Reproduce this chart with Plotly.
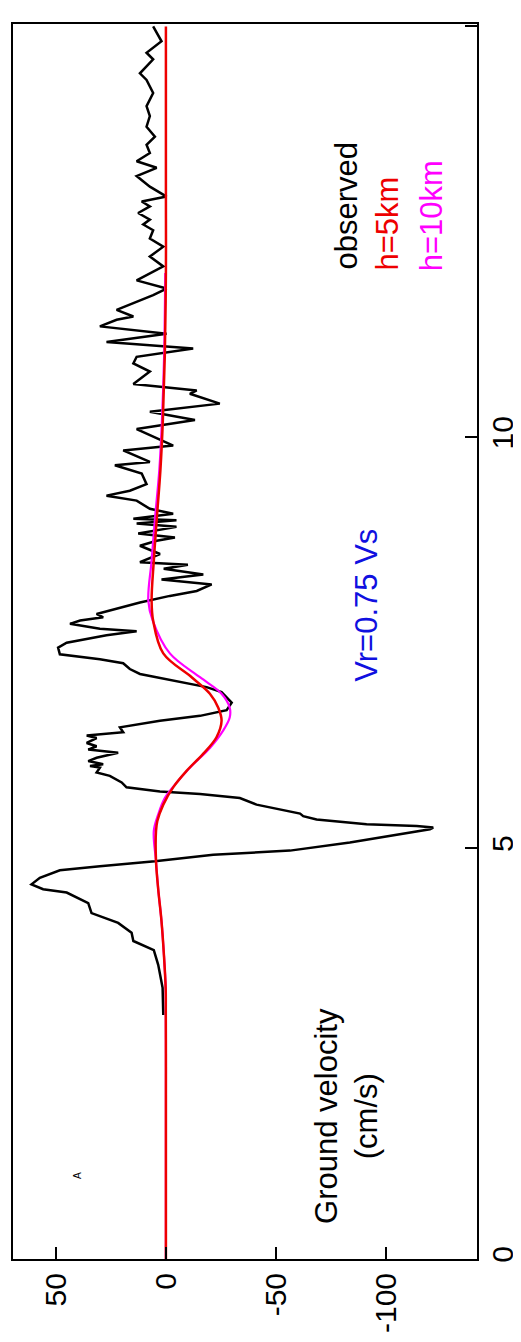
import plotly.graph_objects as go

# observed ground velocity (time s, velocity cm/s)
obs_t = [2.97, 3.30, 3.58, 3.76, 3.87, 3.97, 4.09, 4.21, 4.33, 4.46, 4.50, 4.56, 4.64, 4.73, 4.78, 4.84,
         4.92, 4.97, 5.07, 5.09, 5.23, 5.25, 5.27, 5.29, 5.35, 5.39, 5.42, 5.53, 5.61, 5.66, 5.69, 5.74,
         5.80, 5.88, 5.92, 5.98, 6.00, 6.02, 6.06, 6.10, 6.16, 6.20, 6.24, 6.28, 6.34, 6.37, 6.41, 6.47,
         6.55, 6.61, 6.68, 6.77, 6.90, 6.96, 7.06, 7.12, 7.18, 7.25, 7.30, 7.36, 7.44, 7.50, 7.59, 7.64,
         7.67, 7.73, 7.77, 7.81, 7.85, 7.99, 8.07, 8.13, 8.21, 8.27, 8.33, 8.40, 8.45, 8.48, 8.58, 8.68,
         8.74, 8.78, 8.83, 8.91, 8.95, 8.99, 9.01, 9.07, 9.13, 9.23, 9.29, 9.35, 9.43, 9.56, 9.66, 9.70,
         9.84, 9.90, 10.10, 10.21, 10.31, 10.41, 10.53, 10.57, 10.65, 10.80, 10.90, 10.98, 11.08, 11.16,
         11.26, 11.35, 11.43, 11.47, 11.55, 11.63, 11.73, 11.81, 11.91, 12.08, 12.20, 12.32, 12.42, 12.52,
         12.59, 12.65, 12.73, 12.81, 12.87, 12.93, 13.05, 13.18, 13.28, 13.36, 13.46, 13.56, 13.66, 13.78,
         13.91, 14.03, 14.19, 14.35, 14.43, 14.60, 14.68, 14.82, 14.96, 15.0]
obs_v = [1.2, 1.5, 3.5, 5.5, 14.8, 15.6, 21.7, 33.8, 35.3, 45.1, 55.8, 61.1, 57.3, 48.2, 30, 5,
         -21.5, -56.4, -83.6, -88.2, -120, -121.5, -114, -91.2, -68.5, -62.4, -61, -41.2, -33.6, -15.5, 2.7, 17.9,
         20.1, 25.5, 31.5, 30, 34.5, 28.5, 35.3, 31.5, 21.7, 35.3, 31.5, 36, 31.5, 36, 19.4, 20.9,
         2.7, -15.5, -27.6, -29.9, -25.3, -18.5, -0.3, 11.8, 16.4, 19.4, 30, 48.2, 49, 45.1, 27, 13.3,
         30, 43.6, 39, 28.5, 31.5, 11.8, -1.8, -14, -20.8, 2.0, -17, 1.0, -10, 11.8, 2.7, 11.8,
         4.2, -4.1, 12.6, -4.8, 13.3, -4.8, 14.8, -3.3, 7.3, 13.3, 27, 16.4, 8.8, 11, 23.2, 7.3,
         19.4, -3.3, 13.3, -13.2, 7.3, -24.5, -10.9, -14, 14.8, 7.3, 14.8, 13.3, -12.4, 27,
         -0.3, 30, 22.4, 14.8, 22.4, 14.8, 5.8, -0.3, 13.3, 1.2, 7.3, 1.2, 7.3, 5.8,
         10.3, 7.3, 12.6, 7.3, 11, -0.3, 7.3, 13.3, 4.2, 13.3, 7.3, 8.8, 5, 8.8,
         7.3, 8.8, 5.8, 8.8, 11.8, 5.8, 8.8, 2, 5, 5.8]

# synthetic, h = 5 km
h5_t = [0, 1.0, 2.0, 2.5, 3.0, 3.29, 3.7, 4.11, 4.5, 4.84, 5.21, 5.33, 5.53, 5.74, 5.94, 6.15, 6.35,
        6.55, 6.71, 6.88, 7.08, 7.37, 7.77, 8.01, 8.5, 8.99, 9.6, 10.2, 11.0, 12.0, 13.0, 14.0, 15.0]
h5_v = [0, 0, 0, 0, 0.05, 0.1, 0.9, 2.0, 3.5, 4.5, 4.5, 3.9, 1.2, -3.3, -9.4, -17, -23,
        -25.3, -23.8, -20, -11.7, 1.2, 5.8, 6.5, 5.5, 4.2, 2.5, 1.4, 0.5, 0, 0, 0, 0]

# synthetic, h = 10 km
h10_t = [0, 1.0, 2.0, 2.5, 3.0, 3.29, 3.7, 4.11, 4.5, 4.84, 5.21, 5.41, 5.61, 5.82, 6.02, 6.22, 6.43,
         6.59, 6.71, 6.88, 7.08, 7.37, 7.77, 8.01, 8.5, 9.0, 9.6, 10.2, 11.0, 12.0]
h10_v = [0, 0, 0, 0, 0.05, 0.1, 0.9, 2.0, 3.5, 4.5, 5.5, 3.5, 0.5, -5.6, -12.4, -20, -26,
         -29, -29, -25.3, -15.5, -1.8, 6.0, 8.0, 6.5, 5.0, 3.0, 1.8, 0.8, 0.3]

vel_ticks = [50, 0, -50, -100]
vel_ticktext = ["50", "0", "-50", "-100"]
time_ticks = [0, 5, 10, 15]

FONT = "Liberation Sans, Arial, Helvetica, sans-serif"

fig = go.Figure()
fig.add_trace(go.Scatter(x=obs_v, y=obs_t, mode="lines", line=dict(color="black", width=2.5),
                         name="observed", showlegend=False))
fig.add_trace(go.Scatter(x=h10_v, y=h10_t, mode="lines", line=dict(color="#ff00ff", width=2.2, shape="spline"),
                         name="h=10km", showlegend=False))
fig.add_trace(go.Scatter(x=h5_v, y=h5_t, mode="lines", line=dict(color="#ee0000", width=2.5, shape="spline"),
                         name="h=5km", showlegend=False))


def label(x, y, text, color, size=31):
    fig.add_annotation(x=x, y=y, text=text, textangle=-90, showarrow=False, xref="x", yref="y",
                       xanchor="center", yanchor="middle",
                       font=dict(family=FONT, size=size, color=color))


label(-82.3, 12.82, "observed", "black")
label(-100.9, 12.60, "h=5km", "#ee0000")
label(-120.9, 12.70, "h=10km", "#ff00ff")
label(-91.4, 7.95, "Vr=0.75 Vs", "#1010e0")
label(-81.8, 1.74, "Ground velocity<br>(cm/s)", "black")
label(40.5, 1.02, "A", "black", size=10)

# page body has an 8px margin: the figure is sized to end at the window edge
fig.update_layout(
    width=513, height=1334,
    margin=dict(l=5, r=44, t=16, b=83),
    paper_bgcolor="white", plot_bgcolor="white",
    showlegend=False,
    font=dict(family=FONT, size=30, color="black"),
)
fig.update_xaxes(range=[69.5, -141.4], tickvals=vel_ticks, ticktext=vel_ticktext, tickangle=-90,
                 ticks="inside", ticklen=12, tickwidth=2, tickcolor="black", automargin=False,
                 showline=True, linewidth=2, linecolor="black", mirror=True,
                 showgrid=False, zeroline=False, tickfont=dict(family=FONT, size=30, color="black"))
fig.update_yaxes(range=[0, 15.03], tickvals=time_ticks, side="right", tickangle=-90,
                 ticks="inside", ticklen=12, tickwidth=2, tickcolor="black", automargin=False,
                 showline=True, linewidth=2, linecolor="black", mirror=True, ticklabelstandoff=-2,
                 showgrid=False, zeroline=False, tickfont=dict(family=FONT, size=30, color="black"))

fig.write_html("out.html")
